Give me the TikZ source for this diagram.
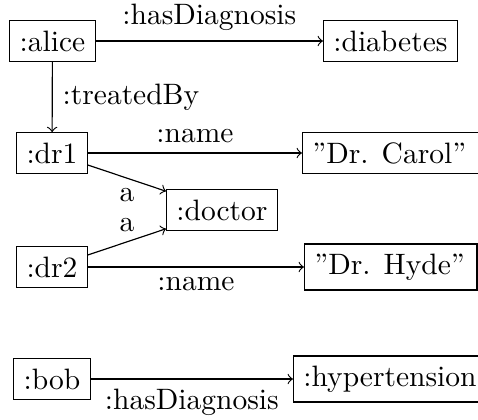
\documentclass[tikz,border=0pt]{standalone}
\begin{document}
\begin{tikzpicture}[x=0.339pt,y=-0.339pt,
  res/.style={draw,inner sep=3.33pt},
  rel/.style={->}]
\useasboundingbox (0,0) rectangle (478,420);
\begin{scope}
\clip (0,0) rectangle (478,420);
\node[res] (alice) at (52.5,41) {:alice};
\node[res,anchor=west] (diabetes) at (323,41) {:diabetes};
\node[res] (dr1) at (52,153) {:dr1};
\node[res,anchor=west] (carol) at (302,153) {”Dr. Carol”\kern4pt};
\node[res] (doctor) at (222,210) {:doctor};
\node[res] (dr2) at (52,267) {:dr2};
\node[res,anchor=west] (hyde) at (304,267) {”Dr. Hyde”\kern0.8pt};
\node[res] (bob) at (52,379) {:bob};
\node[res,anchor=west] (hyper) at (293,379) {:hypertension};
\draw[rel] (alice) -- node[above] {:hasDiagnosis} (diabetes);
\draw[rel] (alice) -- node[right] {:treatedBy} (dr1);
\draw[rel] (dr1) -- node[above] {:name} (carol);
\draw[rel] (dr1) -- node[below] {a} (doctor);
\draw[rel] (dr2) -- node[above] {a} (doctor);
\draw[rel] (dr2) -- node[below] {:name} (hyde);
\draw[rel] (bob) -- node[below] {:hasDiagnosis} (hyper);
\end{scope}
\end{tikzpicture}
\end{document}
